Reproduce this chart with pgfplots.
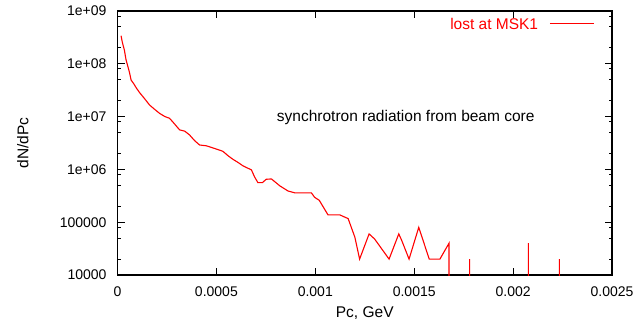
\documentclass[border=0pt]{standalone}
\usepackage{fontspec}
\setmainfont{Liberation Sans}
\usepackage{pgfplots}
\pgfplotsset{compat=1.18}

\begin{document}
\begin{tikzpicture}
\useasboundingbox (0,0) rectangle (639pt,325pt);
\begin{axis}[
  at={(117.5pt,50pt)}, anchor=south west,
  scale only axis, width=494.5pt, height=264pt,
  xmin=0, xmax=0.0025,
  ymode=log, log basis y=10, ymin=1e4, ymax=1e9,
  scaled x ticks=false,
  xtick={0,0.0005,0.001,0.0015,0.002,0.0025},
  xticklabels={0,0.0005,0.001,0.0015,0.002,0.0025},
  ytick={1e4,1e5,1e6,1e7,1e8,1e9},
  yticklabels={10000,100000,1e+06,1e+07,1e+08,1e+09},
  minor ytick={2e4,5e4,8e4,2e5,5e5,8e5,2e6,5e6,8e6,2e7,5e7,8e7,2e8,5e8,8e8},
  tick pos=both, tick align=inside,
  major tick length=7pt, minor tick length=3.5pt,
  every tick/.style={black, line width=0.9pt},
  axis line style={black, line width=1.2pt},
  xticklabel style={font=\fontsize{14}{16}\selectfont, anchor=north, inner sep=0pt, yshift=-11.7pt},
  yticklabel style={font=\fontsize{14}{16}\selectfont, anchor=east, inner sep=0pt, xshift=-10.8pt},
  xlabel={Pc, GeV},
  ylabel={dN/dPc},
  every axis x label/.style={at={(axis description cs:0.5,-0.161)}, anchor=base, inner sep=0pt,
    font=\fontsize{15.5}{18}\selectfont},
  every axis y label/.style={at={(axis description cs:-0.18,0.5)}, rotate=90, anchor=base, inner sep=0pt,
    font=\fontsize{15.5}{18}\selectfont},
]
% momentum spectrum of particles lost at MSK1; zero bins fall below the axis
\addplot[red, line width=1.1pt] coordinates {
  (0.000018,3.4e8) (0.000024,2.6e8) (0.000035,1.8e8) (0.000043,1.2e8)
  (0.000052,9.0e7) (0.000060,7.0e7) (0.000069,4.9e7) (0.000082,4.2e7)
  (0.000095,3.5e7) (0.000110,2.9e7) (0.000128,2.4e7) (0.000145,2.0e7)
  (0.000162,1.66e7) (0.000185,1.4e7) (0.000213,1.15e7) (0.000240,1.0e7)
  (0.000263,9.3e6) (0.000280,7.9e6) (0.000314,5.6e6) (0.000340,5.3e6)
  (0.000364,4.5e6) (0.000390,3.5e6) (0.000415,2.9e6) (0.000449,2.8e6)
  (0.000490,2.5e6) (0.000533,2.2e6) (0.000560,1.8e6) (0.000584,1.55e6)
  (0.000610,1.35e6) (0.000634,1.17e6) (0.000660,1.05e6) (0.000677,9.8e5)
  (0.000693,7.2e5) (0.000710,5.6e5) (0.000732,5.6e5) (0.000752,6.5e5)
  (0.000778,6.6e5) (0.000794,5.9e5) (0.000820,4.9e5) (0.000862,3.9e5)
  (0.000896,3.6e5) (0.000980,3.6e5) (0.000997,2.95e5) (0.001020,2.6e5)
  (0.001040,1.95e5) (0.001064,1.38e5) (0.001123,1.38e5) (0.001166,1.17e5)
  (0.001200,5.2e4) (0.001224,2.0e4) (0.001272,6.0e4) (0.001300,4.8e4)
  (0.001373,2.0e4) (0.001422,6.0e4) (0.001436,4.6e4) (0.001474,2.0e4)
  (0.001523,8.0e4) (0.001576,2.0e4) (0.001630,2.0e4) (0.001676,4.0e4)
  (0.001676,1e3) (0.001780,1e3) (0.001780,2.0e4) (0.001780,1e3)
  (0.002077,1e3) (0.002077,4.0e4) (0.002077,1e3)
  (0.002234,1e3) (0.002234,2.0e4) (0.002234,1e3)
};
% key: label followed by a line sample, gnuplot style
\node[anchor=base east, inner sep=0pt, text=red, font=\fontsize{15.5}{18}\selectfont]
  at (rel axis cs:0.851,0.930) {lost at MSK1};
\draw[color=red, line width=1.8pt] (rel axis cs:0.8746,0.9527) -- (rel axis cs:0.9636,0.9527);
\node[anchor=base west, inner sep=0pt, font=\fontsize{15.5}{18}\selectfont]
  at (rel axis cs:0.322,0.5807) {synchrotron radiation from beam core};
\end{axis}
\end{tikzpicture}
\end{document}
